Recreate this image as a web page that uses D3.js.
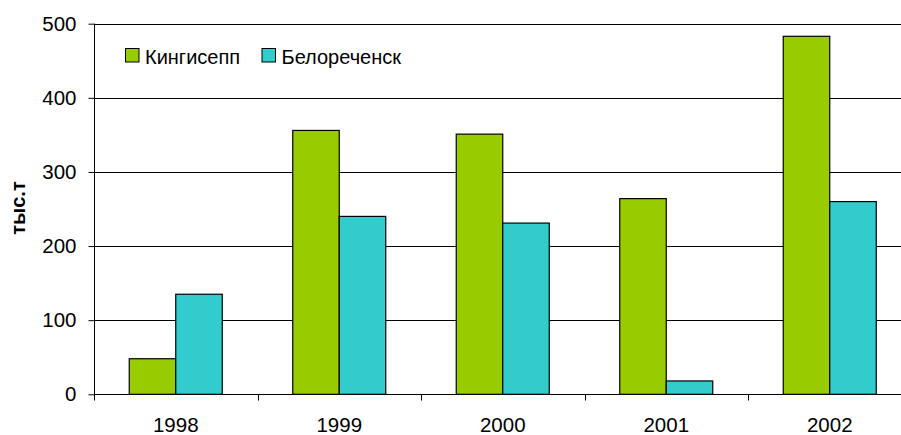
<!DOCTYPE html>
<html>
<head>
<meta charset="utf-8">
<script src="https://cdn.jsdelivr.net/npm/d3@7"></script>
<style>
  html, body { margin: 0; padding: 0; background: #fff; overflow: hidden; }
  svg { display: block; font-family: "Liberation Sans", Arial, sans-serif; }
</style>
</head>
<body>
<svg id="chart" width="901" height="435"></svg>
<script>
// Production by plant, thousand tonnes
const years = ["1998", "1999", "2000", "2001", "2002"];
const seriesNames = ["Кингисепп", "Белореченск"];
const kingisepp = [48, 356, 351, 264, 483];
const belorechensk = [135, 240, 231, 18, 260];
const yTicks = [0, 100, 200, 300, 400, 500];
const colors = ["#99CC00", "#33CCCC"];
const yTitle = "тыс.т";

const rows = years.map((y, i) => ({ year: y, values: [kingisepp[i], belorechensk[i]] }));

const svg = d3.select("#chart");
const plotLeft = 94, plotTop = 23.7, plotBottom = 394.3, plotRight = 911.5;

const x0 = d3.scaleBand().domain(years).range([plotLeft, plotRight]).paddingInner(0).paddingOuter(0);
const x1 = d3.scaleBand().domain(seriesNames).range([0, x0.bandwidth()]).paddingInner(0).paddingOuter(0.758);
const y = d3.scaleLinear().domain([0, 500]).range([plotBottom, plotTop]);

// horizontal gridlines
svg.append("g")
  .selectAll("line")
  .data(yTicks.filter(d => d > 0))
  .join("line")
  .attr("x1", plotLeft).attr("x2", plotRight)
  .attr("y1", d => Math.round(y(d)) + 0.5).attr("y2", d => Math.round(y(d)) + 0.5)
  .attr("stroke", "#000").attr("stroke-width", 1);

// bars
const groups = svg.append("g")
  .selectAll("g")
  .data(rows)
  .join("g")
  .attr("transform", d => `translate(${x0(d.year)},0)`);

groups.selectAll("rect")
  .data(d => d.values.map((v, i) => ({ name: seriesNames[i], value: v, idx: i })))
  .join("rect")
  .attr("x", d => x1(d.name))
  .attr("width", x1.bandwidth())
  .attr("y", d => y(d.value))
  .attr("height", d => y(0) - y(d.value))
  .attr("fill", d => colors[d.idx])
  .attr("stroke", "#000")
  .attr("stroke-width", 1.2);

// y axis
const yAxis = d3.axisLeft(y).tickValues(yTicks).tickSize(6).tickPadding(12).tickFormat(d3.format("d"));
const gy = svg.append("g").attr("transform", `translate(${plotLeft + 0.5},0)`).call(yAxis);
gy.select(".domain").attr("stroke", "#000").attr("d", `M0,${y(500)}V${y(0)}`);
gy.selectAll(".tick line").attr("stroke", "#000");
gy.selectAll(".tick text").attr("font-size", 20.5).attr("fill", "#000")
  .attr("font-family", "Liberation Sans, Arial, sans-serif");

// x axis: baseline, boundary ticks, centered labels
const baseY = Math.round(y(0)) + 0.5;
svg.append("line").attr("x1", plotLeft).attr("x2", plotRight)
  .attr("y1", baseY).attr("y2", baseY).attr("stroke", "#000");
const bounds = years.map(d => x0(d)).concat([x0(years[years.length - 1]) + x0.bandwidth()]);
svg.append("g").selectAll("line").data(bounds).join("line")
  .attr("x1", d => Math.round(d) + 0.5).attr("x2", d => Math.round(d) + 0.5)
  .attr("y1", baseY).attr("y2", baseY + 6).attr("stroke", "#000");
svg.append("g").selectAll("text").data(years).join("text")
  .attr("x", d => x0(d) + x0.bandwidth() / 2)
  .attr("y", 431.5)
  .attr("text-anchor", "middle")
  .attr("font-size", 20.5)
  .attr("fill", "#000")
  .text(d => d);

// y axis title
svg.append("text")
  .attr("transform", `translate(25,208) rotate(-90)`)
  .attr("text-anchor", "middle")
  .attr("font-size", 20)
  .attr("font-weight", "bold")
  .attr("fill", "#000")
  .text(yTitle);

// legend
const legendItems = [{ x: 125.5, label: seriesNames[0], c: colors[0] }, { x: 262, label: seriesNames[1], c: colors[1] }];
const lg = svg.append("g");
legendItems.forEach(it => {
  lg.append("rect").attr("x", it.x).attr("y", 48.5).attr("width", 13.5).attr("height", 13.5)
    .attr("fill", it.c).attr("stroke", "#000").attr("stroke-width", 1);
  lg.append("text").attr("x", it.x + 19.5).attr("y", 63.5)
    .attr("font-size", 20).attr("fill", "#000").text(it.label);
});
</script>
</body>
</html>
